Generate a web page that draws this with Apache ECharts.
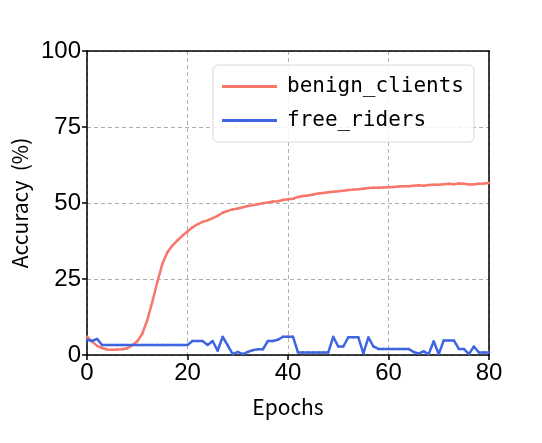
<!DOCTYPE html>
<html>
<head>
<meta charset="utf-8">
<script src="https://cdn.jsdelivr.net/npm/echarts@6/dist/echarts.min.js"></script>
<style>
  html, body { margin: 0; padding: 0; background: #fff; }
  #chart { width: 542px; height: 443px; }
</style>
</head>
<body>
<div id="chart"></div>
<script>
// Datos por época (0..80)
const epochs = Array.from({ length: 81 }, (_, i) => i);

const benignClients = [
  6.0, 4.5, 3.0, 2.3, 1.8, 1.7, 1.8, 1.9, 2.2, 3.2,
  4.5, 7.0, 11.5, 17.5, 24.0, 30.0, 33.8, 36.0, 37.7, 39.3,
  40.6, 42.0, 43.0, 43.8, 44.3, 45.0, 45.8, 46.8, 47.4, 47.9,
  48.2, 48.6, 49.0, 49.3, 49.6, 49.9, 50.2, 50.5, 50.6, 51.0,
  51.2, 51.4, 52.0, 52.3, 52.5, 52.8, 53.1, 53.3, 53.5, 53.7,
  53.9, 54.0, 54.3, 54.4, 54.5, 54.7, 54.9, 55.0, 55.0, 55.1,
  55.2, 55.3, 55.4, 55.5, 55.5, 55.7, 55.8, 55.7, 55.9, 56.0,
  56.0, 56.2, 56.3, 56.2, 56.4, 56.3, 56.1, 56.2, 56.3, 56.4,
  56.6
];

const freeRiders = [
  5.0, 4.6, 5.3, 3.3, 3.3, 3.3, 3.3, 3.3, 3.3, 3.3,
  3.3, 3.3, 3.3, 3.3, 3.3, 3.3, 3.3, 3.3, 3.3, 3.3,
  3.3, 4.6, 4.6, 4.6, 3.3, 4.6, 1.4, 6.0, 3.2, 0.3,
  1.0, 0.3, 1.0, 1.6, 1.9, 1.9, 4.6, 4.6, 5.0, 6.0,
  6.0, 6.0, 0.8, 0.8, 0.8, 0.8, 0.8, 0.8, 0.8, 6.0,
  2.8, 2.8, 5.8, 5.8, 5.8, 0.5, 5.8, 2.8, 2.0, 2.0,
  2.0, 2.0, 2.0, 2.0, 2.0, 1.0, 0.5, 1.2, 0.3, 4.5,
  0.3, 4.8, 4.8, 4.8, 2.0, 2.0, 0.3, 2.8, 0.8, 0.8,
  0.8
];

const xTicks = [0, 20, 40, 60, 80];
const yTicks = [0, 25, 50, 75, 100];

const colorBenign = '#F8766A';
const colorFree = '#3F66E0';

function pares(valores) {
  return epochs.map((e, i) => [e, valores[i]]);
}

// Eje auxiliar: solo la línea del marco (arriba / derecha)
function ejeMarco(base) {
  return Object.assign({
    type: 'value',
    axisLine: { show: true, onZero: false, lineStyle: { color: '#000', width: 1.5 } },
    axisTick: { show: false },
    axisLabel: { show: false },
    splitLine: { show: false }
  }, base);
}

const chart = echarts.init(document.getElementById('chart'), null, { renderer: 'canvas' });

const option = {
  animation: false,
  backgroundColor: '#fff',
  grid: {
    left: 87,
    right: 53,
    top: 51,
    bottom: 88
  },
  legend: {
    orient: 'vertical',
    left: 213,
    top: 65,
    padding: [11, 10, 11, 9],
    itemGap: 13,
    itemWidth: 55,
    itemHeight: 3,
    icon: 'rect',
    borderColor: '#d8d8d8',
    borderWidth: 1,
    borderRadius: 5,
    backgroundColor: 'rgba(255,255,255,0.85)',
    textStyle: {
      fontFamily: 'DejaVu Sans Mono',
      fontSize: 21,
      lineHeight: 20,
      color: '#000',
      padding: [0, 0, 0, 5]
    },
    data: ['benign_clients', 'free_riders']
  },
  xAxis: [
    {
      type: 'value',
      min: xTicks[0],
      max: xTicks[xTicks.length - 1],
      interval: 20,
      name: 'Epochs',
      nameLocation: 'middle',
      nameGap: 42,
      nameTextStyle: {
        fontFamily: 'Noto Sans CJK SC',
        fontSize: 21,
        color: '#000'
      },
      axisLine: { show: true, lineStyle: { color: '#000', width: 1.5 } },
      axisTick: { show: true, length: 5, lineStyle: { color: '#000', width: 1.5 } },
      axisLabel: {
        fontFamily: 'Liberation Sans',
        fontSize: 24,
        color: '#000',
        margin: 6
      },
      splitLine: {
        show: true,
        lineStyle: { color: '#b0b0b0', type: [4, 3], width: 1 }
      }
    },
    ejeMarco({ position: 'top', min: 0, max: 80 })
  ],
  yAxis: [
    {
      type: 'value',
      min: yTicks[0],
      max: yTicks[yTicks.length - 1],
      interval: 25,
      name: 'Accuracy  (%)',
      nameLocation: 'middle',
      nameGap: 56,
      nameTextStyle: {
        fontFamily: 'Noto Sans CJK SC',
        fontSize: 21,
        color: '#000'
      },
      axisLine: { show: true, lineStyle: { color: '#000', width: 1.5 } },
      axisTick: { show: true, length: 5, lineStyle: { color: '#000', width: 1.5 } },
      axisLabel: {
        fontFamily: 'Liberation Sans',
        fontSize: 24,
        color: '#000',
        margin: 6
      },
      splitLine: {
        show: true,
        lineStyle: { color: '#b0b0b0', type: [4, 3], width: 1 }
      }
    },
    ejeMarco({ position: 'right', min: 0, max: 100 })
  ],
  series: [
    {
      name: 'benign_clients',
      type: 'line',
      data: pares(benignClients),
      symbol: 'circle',
      symbolSize: 2.5,
      showSymbol: true,
      itemStyle: { color: colorBenign },
      lineStyle: { color: colorBenign, width: 2.5 },
      z: 3
    },
    {
      name: 'free_riders',
      type: 'line',
      data: pares(freeRiders),
      symbol: 'circle',
      symbolSize: 2.5,
      showSymbol: true,
      itemStyle: { color: colorFree },
      lineStyle: { color: colorFree, width: 2.5 },
      z: 4
    }
  ]
};

chart.setOption(option);
</script>
</body>
</html>
